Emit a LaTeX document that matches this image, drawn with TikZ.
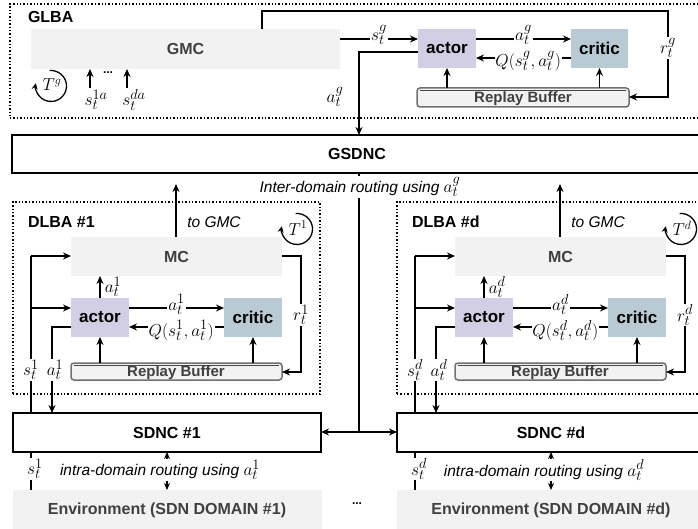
\documentclass[tikz,border=0pt]{standalone}
\usepackage{fontspec}
\setmainfont{Liberation Sans}
\usetikzlibrary{arrows.meta,calc}
\definecolor{actorc}{HTML}{D2CFE4}
\definecolor{criticc}{HTML}{B9CAD5}
\definecolor{envc}{HTML}{F2F2F2}
\definecolor{envtext}{HTML}{404040}
\definecolor{rbline}{HTML}{707070}
\newcommand{\lblmath}[1]{{\fontsize{19}{21}\selectfont$#1$}}
\begin{document}
\begin{tikzpicture}[x=1pt,y=-1pt,
  every node/.style={inner sep=0pt, outer sep=0pt},
  tip/.style={-{Stealth[length=8pt,width=7pt]}},
  arr/.style={line width=1.4pt, tip},
  ln/.style={line width=1.4pt},
  dbl/.style={line width=1.4pt, {Stealth[length=7pt,width=6pt]}-{Stealth[length=7pt,width=6pt]}},
  bx/.style={draw, line width=1.4pt, fill=white, anchor=north west},
  gbx/.style={fill=envc, anchor=north west},
  dotbox/.style={draw, line width=1.4pt, dotted, anchor=north west},
  ttl/.style={font=\fontsize{16}{18}\selectfont\bfseries},
  gtxt/.style={font=\fontsize{16}{18}\selectfont\bfseries, text=envtext},
  mth/.style={font=\fontsize{19}{22}\selectfont, fill=white, inner sep=0.8pt},
  tmth/.style={font=\fontsize{17}{19}\selectfont},
  itl/.style={font=\fontsize{15.5}{18}\selectfont\itshape, fill=white, inner sep=1pt},
  actorst/.style={fill=actorc, anchor=north west, font=\fontsize{17}{19}\selectfont\bfseries},
  criticst/.style={fill=criticc, anchor=north west, font=\fontsize{17}{19}\selectfont\bfseries},
  rbst/.style={draw=rbline, fill=envc, line width=1.5pt, rounded corners=3pt, anchor=north west},
  rbtxt/.style={font=\fontsize{15}{17}\selectfont\bfseries, text=envtext},
  rbtop/.style={line width=1pt, draw=gray!55!black},
  rot/.style={line width=1.3pt, -{Stealth[length=6pt,width=6pt]}}
]
\useasboundingbox (0,0) rectangle (698,529);
\clip (0,0) rectangle (698,529);

% ---------------- GLBA ----------------
\node[dotbox, minimum width=695pt, minimum height=114pt] (glba) at (10,4) {};
\node[ttl, anchor=west] (glbat) at (28,17) {GLBA};
\node[gbx, gtxt, minimum width=309pt, minimum height=40pt] (gmc) at (31,29) {GMC};
\node[actorst, minimum width=58pt, minimum height=39pt] (actorg) at (418,29) {actor};
\node[criticst, minimum width=57pt, minimum height=39pt] (criticg) at (571,29) {critic};
\node[rbst, minimum width=212pt, minimum height=19pt] (rbg) at (417,88) {};
\draw[rbtop] ($(rbg.north west)+(3,2.2)$) -- ($(rbg.north east)+(-3,2.2)$);
\node[rbtxt] (rbgt) at (523,99) {Replay Buffer};

\coordinate (tcg) at (51,86);
\draw[rot] (tcg) ++(-95:15.5) arc[start angle=-95, end angle=190, radius=15.5];
\node[tmth] (tlg) at (52,85) {$T^g$};

\node[mth, fill=none] (s1a) at (96,100) {$s_t^{1a}$};
\node[mth, fill=none] (sda) at (134,100) {$s_t^{da}$};
\draw[arr] (90,88) -- (gmc.south -| 90,0);
\draw[arr] (127,88) -- (gmc.south -| 127,0);
\node[font=\fontsize{12}{14}\selectfont\bfseries] (dotsg) at (108,73) {...};

\draw[arr] (gmc.east |- 0,39) -- node[mth, yshift=4pt] (sgl) {$s_t^g$} (actorg.west |- 0,39);
\draw[arr] (actorg.east |- 0,39) -- node[mth, yshift=4pt] (agl2) {$a_t^g$} (criticg.west |- 0,39);
\draw[arr] (criticg.west |- 0,58) -- node[mth, pos=0.45, yshift=-3pt] (qg) {$Q(s_t^g,a_t^g)$} (actorg.east |- 0,58);
\draw[arr] (actorg.south |- rbg.north) -- (actorg.south);
\draw[arr] (criticg.south |- rbg.north) -- (criticg.south);
\draw[arr] (gmc.north -| 262,0) |- (668,11) -- (668,97) -- (rbg.east |- 0,97);
\node[mth] (rgl) at (668,48) {$r_t^g$};
\draw[arr] (actorg.west |- 0,52) -| (359,135);
\node[mth, fill=none] (agl) at (335,97) {$a_t^g$};

% ---------------- GSDNC ----------------
\node[bx, minimum width=700pt, minimum height=38pt] (gsdnc) at (12,135) {};
\node[ttl] (gsdnct) at (357,154) {GSDNC};
\draw[ln] (gsdnc.south -| 359,0) -- (359,432) coordinate (jn);
\node[itl] (inter) at (360,187) {Inter-domain routing using \lblmath{a_t^g}};

% ---------------- DLBA / SDNC / Environment ----------------
\foreach \dx/\k in {0/1,384/d}{
\begin{scope}[xshift=\dx]
\node[dotbox, minimum width=307pt, minimum height=192pt] (dlba\k) at (13,202) {};
\node[ttl, anchor=west] (dlbat\k) at (28,222) {DLBA \#\k};
\node[itl, fill=none] (togmc\k) at (214,222) {to GMC};
\coordinate (tc\k) at (297,229);
\draw[rot] (tc\k) ++(-95:15.5) arc[start angle=-95, end angle=190, radius=15.5];
\node[tmth] (tl\k) at (298,228) {$T^{\k}$};
\node[gbx, gtxt, minimum width=211pt, minimum height=39pt] (mc\k) at (71,237) {MC};
\coordinate (up\k) at (176,184);
\draw[arr] (mc\k.north -| up\k) -- (up\k);
\node[actorst, minimum width=58pt, minimum height=39pt] (actor\k) at (71,298) {actor};
\node[criticst, minimum width=58pt, minimum height=39pt] (critic\k) at (224,298) {critic};
\node[rbst, minimum width=211pt, minimum height=17pt] (rb\k) at (71,363) {};
\draw[rbtop] ($(rb\k.north west)+(3,2.2)$) -- ($(rb\k.north east)+(-3,2.2)$);
\node[rbtxt] (rbt\k) at (176,372.5) {Replay Buffer};
\node[bx, ttl, minimum width=308pt, minimum height=39pt] (sdnc\k) at (13,413) {SDNC \#\k};
\node[gbx, minimum width=309pt, minimum height=45pt] (env\k) at (13,490) {};
\node[gtxt] (envt\k) at (167,510) {Environment (SDN DOMAIN \#\k)};

\draw[arr] (actor\k.north -| 100,0) -- node[mth, fill=none, right=4pt] (al\k) {$a_t^{\k}$} (mc\k.south -| 100,0);
\draw[arr] (actor\k.east |- 0,308) -- node[mth, yshift=3.5pt] (ac\k) {$a_t^{\k}$} (critic\k.west |- 0,308);
\draw[arr] (critic\k.west |- 0,327) -- node[mth, pos=0.45, yshift=-3.5pt] (q\k) {$Q(s_t^{\k},a_t^{\k})$} (actor\k.east |- 0,327);
\draw[arr] (actor\k.south |- rb\k.north) -- (actor\k.south);
\draw[arr] (critic\k.south |- rb\k.north) -- (critic\k.south);
\draw[arr] (mc\k.east |- 0,256) -| (301,372) -- (rb\k.east |- 0,372);
\node[mth] (rl\k) at (301,315) {$r_t^{\k}$};

\draw[ln] (sdnc\k.north -| 31,0) -- (31,256) coordinate (sv\k);
\draw[arr] (sv\k) -- (mc\k.west |- sv\k);
\draw[arr] (31,308) -- (actor\k.west |- 0,308);
\draw[arr] (actor\k.west |- 0,327) -| (sdnc\k.north -| 52,0);
\node[mth] (sl\k) at (31,370) {$s_t^{\k}$};
\node[mth] (all\k) at (55,370) {$a_t^{\k}$};

\draw[dbl] (sdnc\k.south -| 167,0) -- (env\k.north -| 167,0);
\node[itl] (intra\k) at (160,470) {intra-domain routing using \lblmath{a_t^{\k}}};
\draw[ln] (sdnc\k.south -| 31,0) -- (env\k.north -| 31,0);
\node[mth] (sb\k) at (35,469) {$s_t^{\k}$};
\end{scope}}

\draw[arr] (jn) -- (sdnc1.east |- jn);
\draw[arr] (jn) -- (sdncd.west |- jn);
\node[font=\fontsize{12}{14}\selectfont\bfseries] (dotsm) at (357,504) {...};
\end{tikzpicture}
\end{document}
